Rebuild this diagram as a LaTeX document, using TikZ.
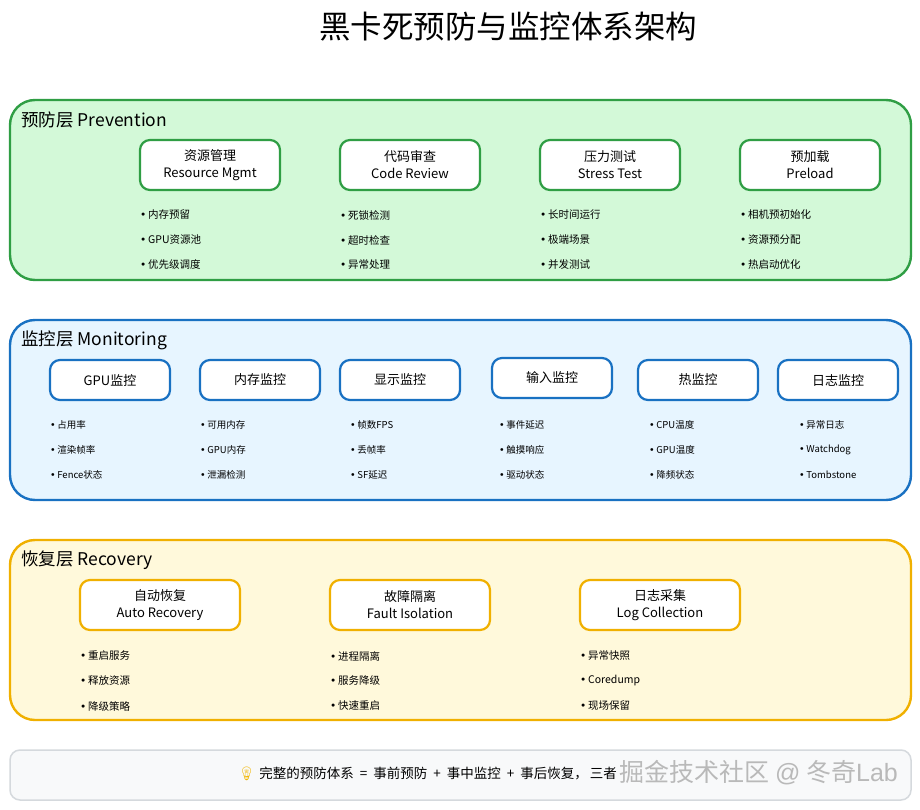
\documentclass[tikz,border=0pt]{standalone}
\usepackage{fontspec}
\setmainfont{Noto Sans CJK SC}
\newfontfamily\emojifont{Noto Emoji}
\newfontfamily\markfont{Liberation Sans}
\newfontfamily\dotfont{DejaVu Sans}
\definecolor{prevline}{HTML}{2F9E44}
\definecolor{prevfill}{HTML}{D3F9D8}
\definecolor{monline}{HTML}{1971C2}
\definecolor{monfill}{HTML}{E7F5FF}
\definecolor{recline}{HTML}{F0B000}
\definecolor{recfill}{HTML}{FFF9DB}
\definecolor{notefill}{HTML}{F8F9FA}
\definecolor{noteline}{HTML}{D5D9DD}
\definecolor{bulb}{HTML}{F2B705}
\newcommand{\dotitem}{{\dotfont •}\,}
\newcommand{\opgap}[1]{\hspace{6pt}#1\hspace{6pt}}
\tikzset{
  layer/.style={rectangle,rounded corners=25pt,line width=2.4pt,
    minimum width=901pt,minimum height=180pt,inner sep=0pt},
  layertitle/.style={anchor=west,inner sep=0pt,font=\fontsize{17.5}{20}\selectfont},
  itembox/.style={rectangle,rounded corners=10pt,line width=2.2pt,fill=white,
    align=center,inner sep=0pt,font=\fontsize{13}{17}\selectfont},
  itemtext/.style={anchor=west,inner sep=0pt,font=\fontsize{10.5}{12}\selectfont}
}
\begin{document}
\begin{tikzpicture}[x=1pt,y=-1pt]
  \useasboundingbox[fill=white] (0,0) rectangle (920,810);
  \node[inner sep=0pt,font=\fontsize{31.5}{34}\selectfont] (title) at (508,27) {黑卡死预防与监控体系架构};

  % prevention
  \node[layer,draw=prevline,fill=prevfill] (prevlayer) at (460.5,190) {};
  \node[layertitle] (prevtitle) at (21,120) {预防层 Prevention};
  \foreach \x/\n/\a/\b [count=\i] in {210/resmgmt/资源管理/Resource Mgmt, 410/codereview/代码审查/Code Review,
    610/stresstest/压力测试/Stress Test, 810/preload/预加载/Preload}
    \node[itembox,draw=prevline,minimum width=140pt,minimum height=50pt] (\n) at (\x,165) {\a\\\b};
  \foreach \x/\a/\b/\c [count=\i] in {140/内存预留/GPU资源池/优先级调度, 340/死锁检测/超时检查/异常处理,
    540/长时间运行/极端场景/并发测试, 740/相机预初始化/资源预分配/热启动优化}{
    \node[itemtext] (pa\i) at (\x,215) {\dotitem\a};
    \node[itemtext] (pb\i) at (\x,240) {\dotitem\b};
    \node[itemtext] (pc\i) at (\x,265) {\dotitem\c};
  }

  % monitoring
  \node[layer,draw=monline,fill=monfill] (monlayer) at (460.5,410) {};
  \node[layertitle] (montitle) at (21,340) {监控层 Monitoring};
  \foreach \x/\y/\n/\a in {110/380/gpumon/GPU监控, 260/380/memmon/内存监控, 400/380/dispmon/显示监控,
    552/378/inputmon/输入监控, 698/380/thermmon/热监控, 838/380/logmon/日志监控}
    \node[itembox,draw=monline,minimum width=120pt,minimum height=40pt] (\n) at (\x,\y) {\a};
  \foreach \x/\a/\b/\c [count=\i] in {50/占用率/渲染帧率/Fence状态, 200/可用内存/GPU内存/泄漏检测,
    350/帧数FPS/丢帧率/SF延迟, 499/事件延迟/触摸响应/驱动状态, 649/CPU温度/GPU温度/降频状态,
    799/异常日志/Watchdog/Tombstone}{
    \node[itemtext,font=\fontsize{9.5}{11}\selectfont] (ma\i) at (\x,425) {\dotitem\a};
    \node[itemtext,font=\fontsize{9.5}{11}\selectfont] (mb\i) at (\x,450) {\dotitem\b};
    \node[itemtext,font=\fontsize{9.5}{11}\selectfont] (mc\i) at (\x,475) {\dotitem\c};
  }

  % recovery
  \node[layer,draw=recline,fill=recfill] (reclayer) at (460.5,630) {};
  \node[layertitle] (rectitle) at (21,560) {恢复层 Recovery};
  \foreach \x/\n/\a/\b in {160/autorec/自动恢复/Auto Recovery, 410/faultiso/故障隔离/Fault Isolation,
    660/logcol/日志采集/Log Collection}
    \node[itembox,draw=recline,minimum width=160pt,minimum height=50pt] (\n) at (\x,605) {\a\\\b};
  \foreach \x/\a/\b/\c [count=\i] in {80/重启服务/释放资源/降级策略, 330/进程隔离/服务降级/快速重启,
    580/异常快照/Coredump/现场保留}{
    \node[itemtext] (ra\i) at (\x,656) {\dotitem\a};
    \node[itemtext] (rb\i) at (\x,681) {\dotitem\b};
    \node[itemtext] (rc\i) at (\x,706) {\dotitem\c};
  }

  % summary
  \node[rectangle,rounded corners=10pt,line width=1.5pt,draw=noteline,fill=notefill,
    minimum width=901pt,minimum height=50pt,inner sep=0pt] (note) at (460.5,775) {};
  \node[anchor=west,inner sep=0pt,font=\fontsize{13.5}{15}\selectfont] (notetext) at (238,774)
    {{\emojifont\color{bulb}💡}\hspace{4pt}完整的预防体系\opgap{=}事前预防\opgap{+}事中监控\opgap{+}事后恢复，\hspace{2pt}三者};
  \node[anchor=east,inner sep=0pt,text=gray!55,font=\fontsize{25}{27}\selectfont] (mark) at (898,773)
    {掘金技术社区 {\markfont @} 冬奇{\markfont Lab}};
\end{tikzpicture}
\end{document}
